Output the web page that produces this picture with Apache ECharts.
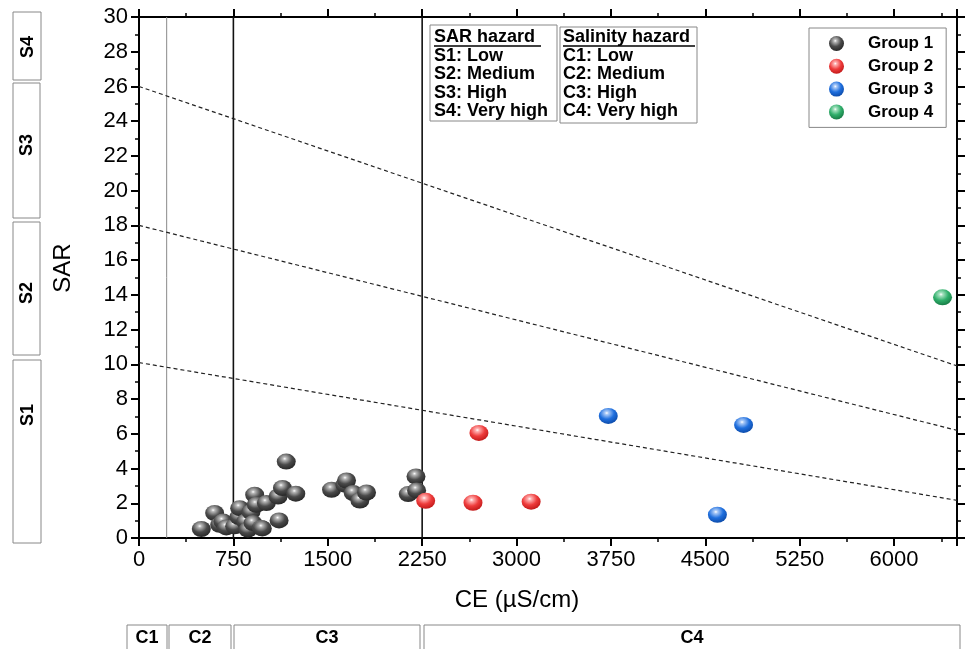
<!DOCTYPE html>
<html><head><meta charset="utf-8">
<script src="https://cdn.jsdelivr.net/npm/echarts@6/dist/echarts.min.js"></script>
<style>html,body{margin:0;padding:0;background:#fff}#c{width:973px;height:649px}</style>
</head><body><div id="c"></div>
<script>
// ---- data ----
const groupNames = ['Group 1', 'Group 2', 'Group 3', 'Group 4'];
const group1 = [[495,0.52],[601,1.44],[641,0.76],[667,0.95],[694,0.61],[760,0.67],[794,1.21],[800,1.72],
  [848,0.95],[866,0.48],[890,1.5],[906,0.86],[919,2.49],[932,1.91],[972,0.58],[980,0.55],[1012,2.01],
  [1105,2.39],[1113,1.01],[1140,2.88],[1170,4.40],[1246,2.55],
  [1530,2.78],[1636,3.07],[1649,3.31],[1702,2.59],[1755,2.16],[1808,2.62],
  [2139,2.53],[2201,3.54],[2206,2.74]];
const group2 = [[2278,2.14],[2654,2.03],[2701,6.05],[3116,2.09]];
const group3 = [[3729,7.03],[4596,1.34],[4804,6.51]];
const group4 = [[6385,13.86]];
const xMin = 0, xMax = 6500, xInterval = 750;
const yMin = 0, yMax = 30, yInterval = 2;
const hazardLines = [
  [[0,10.1],[6500,2.17]],
  [[0,18],[6500,6.2]],
  [[0,26],[6500,9.91]]
];
const ceBoundaries = [220, 750, 2250];
const sarClassLabels = ['S4','S3','S2','S1'];
const ceClassLabels = ['C1','C2','C3','C4'];
const sarHazardText = ['SAR hazard','S1: Low','S2: Medium','S3: High','S4: Very high'];
const salinityHazardText = ['Salinity hazard','C1: Low','C2: Medium','C3: High','C4: Very high'];
const xAxisTitle = 'CE (µS/cm)';
const yAxisTitle = 'SAR';

// ---- styling ----
const FONT = '"Liberation Sans", Arial, sans-serif';
function ball(base, dark, light) {
  return {type:'radial', x:0.42, y:0.32, r:0.7, colorStops:[
    {offset:0, color:'#ffffff'}, {offset:0.14, color:light}, {offset:0.55, color:base}, {offset:1, color:dark}]};
}
const ballColors = [
  ball('#4a4a4a','#262626','#b8b8b8'),
  ball('#ee3b3b','#c01818','#ffb0b0'),
  ball('#1f6fde','#0c4aa8','#a9c9f7'),
  ball('#2fae6a','#177a44','#a6e2c0')
];
const groups = [group1, group2, group3, group4];

const chart = echarts.init(document.getElementById('c'), null, {renderer:'canvas'});

const series = [];
ceBoundaries.forEach((b, i) => {
  series.push({type:'line', data:[[b,yMin],[b,yMax]], symbol:'none', silent:true, z:1,
    lineStyle:{color: i === 0 ? '#8a8a8a' : '#111', width: i === 0 ? 1 : 1.6}});
});
hazardLines.forEach(l => {
  series.push({type:'line', data:l, symbol:'none', silent:true, z:1,
    lineStyle:{color:'#222', width:1.2, type:[4,3]}});
});
groups.forEach((g, i) => {
  series.push({name:groupNames[i], type:'scatter', data:g, symbol:'circle', symbolSize:[19,16], z:5,
    itemStyle:{color:ballColors[i], opacity:1}});
});

const axisCommon = {
  axisLine:{show:true, onZero:false, lineStyle:{color:'#000', width:2}},
  axisTick:{show:true, inside:false, length:8, lineStyle:{color:'#000', width:2}},
  minorTick:{show:true, splitNumber:2, length:4, lineStyle:{color:'#000', width:1.5}},
  splitLine:{show:false}, minorSplitLine:{show:false}
};
const plainNum = v => String(v);

function textLines(lines, x, y0, dy) {
  return lines.map((t, i) => ({type:'text', x:x, y:y0 + i*dy, silent:true,
    style:{text:t, font:'bold 18px ' + FONT, fill:'#000', verticalAlign:'middle'}}));
}

const graphic = [];
// SAR / salinity hazard boxes
graphic.push({type:'rect', shape:{x:430, y:25, width:127, height:96}, style:{fill:'#fff', stroke:'#888', lineWidth:1}, z:10});
graphic.push({type:'rect', shape:{x:560, y:27, width:137, height:96}, style:{fill:'#fff', stroke:'#888', lineWidth:1}, z:10});
textLines(sarHazardText, 434, 37, 18.6).forEach(e => {e.z = 11; graphic.push(e);});
textLines(salinityHazardText, 563, 37, 18.6).forEach(e => {e.z = 11; graphic.push(e);});
graphic.push({type:'line', shape:{x1:434, y1:46, x2:541, y2:46}, style:{stroke:'#000', lineWidth:1.3}, z:11});
graphic.push({type:'line', shape:{x1:563, y1:46, x2:695, y2:46}, style:{stroke:'#000', lineWidth:1.3}, z:11});

// S class boxes on the left
const sBoxes = [[13,12,28,68,47],[13,83,27,135,145],[13,222,27,133,293],[13,360,28,183,415]];
sBoxes.forEach((b, i) => {
  graphic.push({type:'rect', shape:{x:b[0], y:b[1], width:b[2], height:b[3]}, style:{fill:'#fff', stroke:'#888', lineWidth:1}});
  graphic.push({type:'text', x:b[0] + b[2]/2 + 1, y:b[4], rotation:Math.PI/2,
    style:{text:sarClassLabels[i], font:'bold 18px ' + FONT, fill:'#000', align:'center', verticalAlign:'middle'}});
});
// C class boxes at the bottom
const cBoxes = [[127,40],[169,62],[234,186],[424,536]];
cBoxes.forEach((b, i) => {
  graphic.push({type:'rect', shape:{x:b[0], y:625, width:b[1], height:30}, style:{fill:'#fff', stroke:'#888', lineWidth:1}});
  graphic.push({type:'text', x:b[0] + b[1]/2, y:638,
    style:{text:ceClassLabels[i], font:'bold 18px ' + FONT, fill:'#000', align:'center', verticalAlign:'middle'}});
});
// axis titles
graphic.push({type:'text', x:63, y:268, rotation:Math.PI/2,
  style:{text:yAxisTitle, font:'24px ' + FONT, fill:'#000', align:'center', verticalAlign:'middle'}});
graphic.push({type:'text', x:517, y:600,
  style:{text:xAxisTitle, font:'24px ' + FONT, fill:'#000', align:'center', verticalAlign:'middle'}});

chart.setOption({
  animation:false,
  backgroundColor:'#fff',
  grid:{left:139, right:16, top:17, bottom:111, containLabel:false},
  legend:{data:groupNames, orient:'vertical', left:809, top:28, padding:[7,13,7,20],
    itemWidth:17, itemHeight:15, itemGap:5.8, icon:'circle',
    borderColor:'#888', borderWidth:1, backgroundColor:'#fff',
    textStyle:{fontFamily:FONT, fontWeight:'bold', fontSize:17, color:'#000', padding:[0,0,0,18]}},
  xAxis:[
    Object.assign({type:'value', position:'bottom', min:xMin, max:xMax, interval:xInterval,
      axisLabel:{show:true, fontFamily:FONT, fontSize:22, color:'#000', margin:11, showMaxLabel:false, formatter:plainNum}}, axisCommon),
    Object.assign({type:'value', position:'top', min:xMin, max:xMax, interval:xInterval,
      axisLabel:{show:false}}, axisCommon)
  ],
  yAxis:[
    Object.assign({type:'value', position:'left', min:yMin, max:yMax, interval:yInterval,
      axisLabel:{show:true, fontFamily:FONT, fontSize:22, color:'#000', margin:11, formatter:plainNum}}, axisCommon),
    Object.assign({type:'value', position:'right', min:yMin, max:yMax, interval:yInterval,
      axisLabel:{show:false}}, axisCommon)
  ],
  series:series,
  graphic:graphic
});
</script></body></html>
